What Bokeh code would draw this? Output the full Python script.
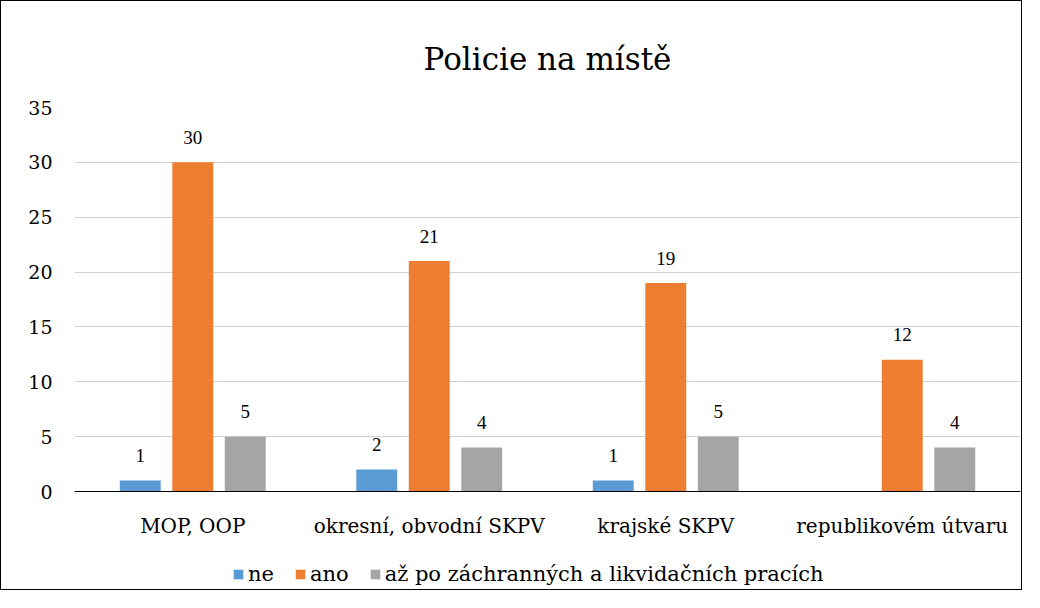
from bokeh.plotting import figure
from bokeh.layouts import column
from bokeh.models import ColumnDataSource, LabelSet, Legend, LegendItem, FactorRange, Range1d, FixedTicker
from bokeh.transform import dodge
from bokeh.embed import file_html
from bokeh.resources import INLINE

categories = ["MOP, OOP", "okresní, obvodní SKPV", "krajské SKPV", "republikovém útvaru"]
series_names = ["ne", "ano", "až po záchranných a likvidačních pracích"]
ne = [1, 2, 1, None]
ano = [30, 21, 19, 12]
az = [5, 4, 5, 4]
y_ticks = [0, 5, 10, 15, 20, 25, 30, 35]

colors = ["#5B9BD5", "#ED7D31", "#A5A5A5"]
FONT = "DejaVu Serif"

p = figure(x_range=FactorRange(*categories, range_padding=0), y_range=Range1d(0, 35),
           width=1022, height=545, output_backend="svg", toolbar_location=None,
           min_border_left=73, min_border_right=3, min_border_top=106, min_border_bottom=55)
p.styles = {"border-top": "1px solid #000000", "border-left": "1px solid #000000",
            "border-right": "1px solid #000000"}

p.title.text = "Policie na místě"
p.title.align = "center"
p.title.offset = -16
p.title.text_font = FONT
p.title.text_font_size = "31px"
p.title.text_font_style = "normal"
p.title.text_color = "#000000"
p.title.standoff = 62

# legend strip below the chart
p2 = figure(x_range=FactorRange(*categories, range_padding=0), y_range=Range1d(100, 101),
            width=1022, height=45, output_backend="svg", toolbar_location=None,
            x_axis_type=None, y_axis_type=None,
            min_border_left=0, min_border_right=0, min_border_top=0, min_border_bottom=0)
p2.styles = {"border-bottom": "1px solid #000000", "border-left": "1px solid #000000",
             "border-right": "1px solid #000000"}
p2.outline_line_color = None
p2.xgrid.grid_line_color = None
p2.ygrid.grid_line_color = None

offsets = [-0.222, 0.0, 0.222]
items = []
for name, vals, col, off in zip(series_names, [ne, ano, az], colors, offsets):
    xs = [c for c, v in zip(categories, vals) if v is not None]
    ys = [v for v in vals if v is not None]
    src = ColumnDataSource(dict(x=xs, y=ys, lab=[str(v) for v in ys]))
    p.vbar(x=dodge("x", off, range=p.x_range), top="y", width=0.173, source=src,
           fill_color=col, line_color=None)
    p.add_layout(LabelSet(x=dodge("x", off, range=p.x_range), y="y", text="lab", source=src,
                          y_offset=25, text_align="center", text_baseline="middle",
                          text_font=FONT, text_font_size="19px", text_color="#000000"))
    r2 = p2.vbar(x=dodge("x", off, range=p2.x_range), top="y", width=0.173, source=src,
                 fill_color=col, line_color=None)
    items.append(LegendItem(label=name, renderers=[r2]))

p.outline_line_color = None
p.xgrid.grid_line_color = None
p.ygrid.grid_line_color = "#d0d0d0"
p.yaxis.ticker = FixedTicker(ticks=y_ticks)
p.yaxis.axis_line_color = None
p.yaxis.major_tick_line_color = None
p.yaxis.minor_tick_line_color = None
p.yaxis.major_label_text_font = FONT
p.yaxis.major_label_text_font_size = "19px"
p.yaxis.major_label_text_color = "#000000"
p.yaxis.major_label_standoff = 16

p.xaxis.axis_line_color = "#000000"
p.xaxis.major_tick_line_color = None
p.xaxis.minor_tick_line_color = None
p.xaxis.major_label_text_font = FONT
p.xaxis.major_label_text_font_size = "20px"
p.xaxis.major_label_text_color = "#000000"
p.xaxis.major_label_standoff = 16

legend = Legend(items=items, orientation="horizontal", location=(158, 4),
                glyph_width=12, glyph_height=12, label_standoff=4, spacing=20,
                margin=0, padding=0,
                label_text_font=FONT, label_text_font_size="21px", label_text_color="#000000",
                border_line_color=None, background_fill_alpha=0)
p2.add_layout(legend)

layout = column(p, p2, spacing=0)
open("out.html", "w").write(file_html(layout, INLINE))
